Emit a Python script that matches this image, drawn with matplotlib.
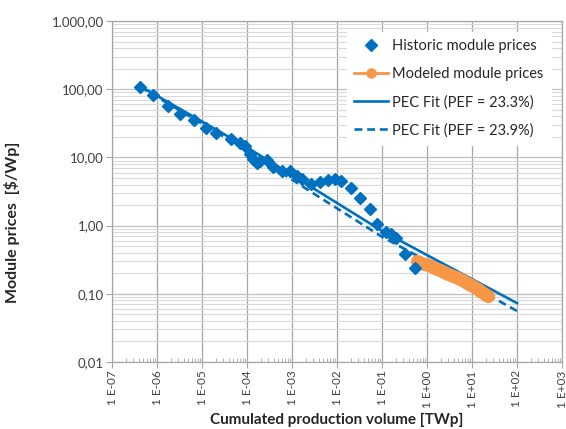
from __future__ import annotations

import matplotlib

matplotlib.use("Agg")

import matplotlib.pyplot as plt
from matplotlib.ticker import FixedLocator, NullFormatter, LogLocator

# Historic module prices [$/Wp] over cumulated production [TWp]
historic_volume = [
    4.2e-7, 8.1e-7, 1.74e-6, 3.2e-6, 6.6e-6, 1.2e-5, 2.0e-5, 4.4e-5, 6.9e-5, 8.9e-5,
    1.15e-4, 1.35e-4, 1.65e-4, 1.9e-4, 2.75e-4, 3.7e-4, 5.9e-4, 8.9e-4, 1.26e-3, 1.7e-3,
    2.7e-3, 4.1e-3, 6.2e-3, 8.8e-3, 1.2e-2, 2.0e-2, 3.2e-2, 5.5e-2, 0.079, 0.12,
    0.155, 0.21, 0.32, 0.53,
]
historic_price = [
    107, 82, 57, 43, 35, 27, 23, 18.6, 16.2, 14.7,
    11.3, 9.5, 8.3, 8.9, 9.2, 7.2, 6.3, 6.3, 5.3, 4.8,
    4.1, 4.4, 4.7, 4.8, 4.5, 3.55, 2.54, 1.75, 1.06, 0.81,
    0.76, 0.66, 0.38, 0.24,
]

# Modeled module prices
modeled_volume = [0.60, 0.68, 0.75, 0.85, 0.95, 1.07, 1.2, 1.35, 1.5, 1.7, 1.9, 2.15, 2.4,
                  2.7, 3.0, 3.4, 3.8, 4.3, 4.8, 5.4, 6.0, 6.8, 7.6, 8.5, 9.5, 10.7, 12,
                  13.5, 15, 17, 19, 21, 23]
modeled_price = [0.300, 0.292, 0.285, 0.277, 0.270, 0.262, 0.255, 0.247, 0.240, 0.232,
                 0.225, 0.217, 0.210, 0.203, 0.197, 0.190, 0.183, 0.176, 0.170, 0.164,
                 0.158, 0.152, 0.146, 0.140, 0.134, 0.128, 0.122, 0.116, 0.111, 0.105,
                 0.100, 0.096, 0.092]

# PEC fits for two price efficiency factors
fit_volume = [4.2e-7, 8.9e-5, 2.9e-3, 0.102, 1.32, 100]
fit_price_233 = [111, 14.7, 3.56, 0.83, 0.335, 0.073]
fit_price_239 = [108, 13.3, 3.0, 0.68, 0.274, 0.056]

x_ticks = [1e-7, 1e-6, 1e-5, 1e-4, 1e-3, 1e-2, 1e-1, 1e0, 1e1, 1e2, 1e3]
x_tick_labels = ["1 E-07", "1 E-06", "1 E-05", "1 E-04", "1 E-03", "1 E-02",
                 "1 E-01", "1 E+00", "1 E+01", "1 E+02", "1 E+03"]
y_ticks = [0.01, 0.1, 1, 10, 100, 1000]
y_tick_labels = ["0,01", "0,10", "1,00", "10,00", "100,00", "1.000,00"]

BLUE = "#0070C0"
ORANGE = "#F79646"

plt.rcParams["font.family"] = ["Lato", "DejaVu Sans"]

fig = plt.figure(figsize=(5.66, 4.29), dpi=100)
ax = fig.add_axes([112 / 566, 1 - 362 / 429, 450 / 566, 341 / 429])

ax.set_xscale("log")
ax.set_yscale("log")
ax.set_xlim(1e-7, 1e3)
ax.set_ylim(0.01, 1000)

# gridlines: decades vertically, full log grid horizontally
ax.xaxis.set_major_locator(FixedLocator(x_ticks))
ax.xaxis.set_minor_locator(LogLocator(base=10, subs=range(2, 10), numticks=100))
ax.yaxis.set_major_locator(FixedLocator(y_ticks))
ax.yaxis.set_minor_locator(LogLocator(base=10, subs=range(2, 10), numticks=100))
ax.xaxis.set_minor_formatter(NullFormatter())
ax.yaxis.set_minor_formatter(NullFormatter())
ax.set_xticklabels(x_tick_labels, rotation=90)
ax.set_yticklabels(y_tick_labels)

ax.grid(True, which="major", axis="x", color="#A6A6A6", linewidth=0.9)
ax.grid(True, which="major", axis="y", color="#BFBFBF", linewidth=0.9)
ax.grid(True, which="minor", axis="y", color="#D9D9D9", linewidth=0.8)
ax.set_axisbelow(True)

ax.tick_params(axis="both", which="major", length=4, color="#A6A6A6", labelsize=9.5,
               labelcolor="#404040", pad=2)
ax.tick_params(axis="x", which="major", labelsize=8.5)
ax.tick_params(axis="x", which="minor", direction="in", length=3, color="#A6A6A6")
ax.tick_params(axis="y", which="minor", length=0)
for side, spine in ax.spines.items():
    spine.set_color("#A6A6A6")
    spine.set_linewidth(0.9)

ax.plot(fit_volume, fit_price_233, color=BLUE, linewidth=1.9, label="PEC Fit (PEF = 23.3%)", zorder=3)
ax.plot(fit_volume, fit_price_239, color=BLUE, linewidth=1.9, linestyle=(0, (3, 1.8)),
        label="PEC Fit (PEF = 23.9%)", zorder=3)
ax.plot(modeled_volume, modeled_price, color=ORANGE, linewidth=2, marker="o", markersize=8.5,
        label="Modeled module prices", zorder=4)
ax.plot(historic_volume, historic_price, linestyle="none", marker="D", markersize=6,
        color=BLUE, label="Historic module prices", zorder=5)

handles, labels = ax.get_legend_handles_labels()
order = [3, 2, 0, 1]
legend = ax.legend([handles[i] for i in order], [labels[i] for i in order],
                   loc="upper right", fontsize=10.5, frameon=True, framealpha=1,
                   edgecolor="white", fancybox=False, handlelength=2.3,
                   labelspacing=0.95, borderaxespad=0.75, handletextpad=0.3,
                   borderpad=0.5)
legend.legend_handles[1].set_markersize(6.5)
for text in legend.get_texts():
    text.set_color("#262626")

ax.set_xlabel("Cumulated production volume [TWp]", fontsize=11, fontweight="bold",
              color="#262626")
ax.set_ylabel("Module prices  [$/Wp]", fontsize=11.5, fontweight="bold",
              color="#262626")
ax.xaxis.set_label_coords(0.5, -0.15, transform=ax.transAxes)
ax.yaxis.set_label_coords(-0.204, 0.41, transform=ax.transAxes)

fig.savefig("out.png", dpi=100)
